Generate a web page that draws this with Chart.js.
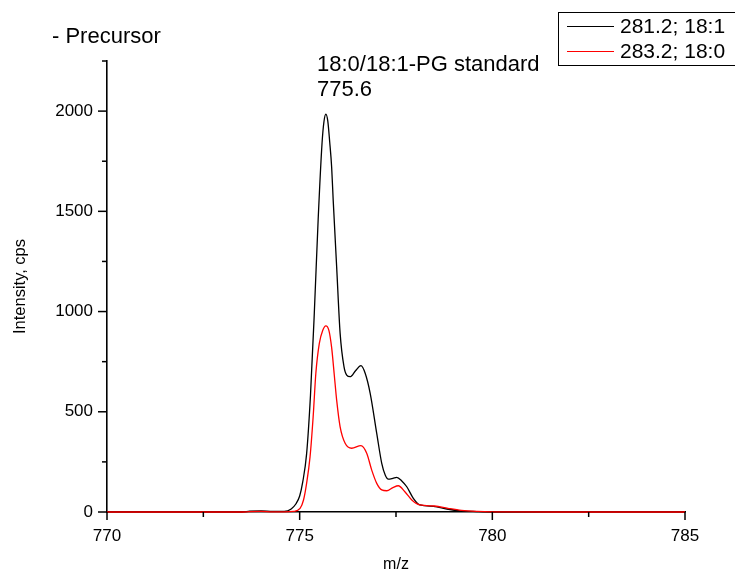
<!DOCTYPE html>
<html>
<head>
<meta charset="utf-8">
<script src="https://cdn.jsdelivr.net/npm/chart.js@4"></script>
<style>
html,body{margin:0;padding:0;background:#fff;}
#wrap{width:735px;height:572px;position:relative;}
</style>
</head>
<body>
<div id="wrap"><canvas id="c" width="735" height="572"></canvas></div>
<script>
// ---- data ----
const seriesLabels = ["281.2; 18:1", "283.2; 18:0"];
const seriesColors = ["#000000", "#ff0000"];

const mzBlack = [770, 773.5, 773.7, 774.0, 774.3, 774.6, 774.78, 774.9, 775.0, 775.08, 775.18, 775.28, 775.38, 775.48, 775.58, 775.63, 775.68, 775.73, 775.78, 775.83, 775.87, 775.96, 776.05, 776.15, 776.22, 776.31, 776.45, 776.59, 776.70, 776.83, 777.0, 777.13, 777.22, 777.30, 777.42, 777.52, 777.65, 777.78, 777.95, 778.12, 778.47, 778.82, 779.16, 779.6, 780, 785];
const intBlack = [0, 0, 4, 6, 3, 3, 15, 40, 80, 150, 290, 580, 993, 1459, 1838, 1947, 1985, 1950, 1845, 1720, 1556, 1223, 891, 725, 683, 675, 705, 730, 692, 592, 392, 243, 185, 164, 168, 173, 155, 126, 68, 35, 28, 15, 6, 2, 0, 0];

const mzRed = [770, 773.5, 773.7, 774.0, 774.3, 774.6, 774.84, 775.01, 775.10, 775.18, 775.27, 775.35, 775.42, 775.51, 775.60, 775.68, 775.76, 775.83, 775.90, 775.96, 776.05, 776.18, 776.35, 776.59, 776.74, 776.87, 777.0, 777.13, 777.26, 777.42, 777.56, 777.73, 777.91, 778.12, 778.5, 778.85, 779.2, 779.6, 780, 782, 785];
const intRed = [0, 0, 2, 3, 1, 1, 3, 18, 60, 143, 276, 475, 692, 841, 907, 929, 905, 820, 680, 558, 425, 343, 318, 331, 293, 209, 143, 110, 106, 122, 131, 101, 60, 35, 30, 18, 8, 3, 1, 0, 0];

const xMin = 770, xMax = 785, xMajor = 5, xMinor = 2.5;
const yMin = 0, yMax = 2250, yMajor = 500, yMinor = 250;
const xTitle = "m/z";
const yTitle = "Intensity, cps";
const cornerTitle = "- Precursor";
const annotationLines = ["18:0/18:1-PG standard", "775.6"];

// ---- chart ----
const FONT = "'Liberation Sans', Arial, sans-serif";
const toPts = (xs, ys) => xs.map((x, i) => ({x: x, y: ys[i]}));

const decor = {
  id: 'decor',
  afterDraw(chart) {
    const ctx = chart.ctx;
    const xs = chart.scales.x, ys = chart.scales.y;
    ctx.save();
    ctx.strokeStyle = '#000';
    ctx.lineWidth = 1.5;
    const yb = ys.getPixelForValue(yMin);
    xs.ticks.forEach(t => {
      const px = xs.getPixelForValue(t.value);
      const major = Math.abs(t.value / xMajor - Math.round(t.value / xMajor)) < 1e-6;
      ctx.beginPath(); ctx.moveTo(px, yb); ctx.lineTo(px, yb + (major ? 8 : 5)); ctx.stroke();
    });
    const xl = xs.getPixelForValue(xMin);
    ys.ticks.forEach(t => {
      const py = ys.getPixelForValue(t.value);
      const major = Math.abs(t.value / yMajor - Math.round(t.value / yMajor)) < 1e-6;
      ctx.beginPath(); ctx.moveTo(xl, py); ctx.lineTo(xl - (major ? 9 : 5), py); ctx.stroke();
    });
    ctx.fillStyle = '#000';
    ctx.textBaseline = 'alphabetic';
    ctx.textAlign = 'left';
    ctx.font = '22px ' + FONT;
    ctx.fillText(cornerTitle, 52, 43);
    ctx.fillText(annotationLines[0], 317, 71);
    ctx.fillText(annotationLines[1], 317, 96);
    // legend
    ctx.lineWidth = 1;
    ctx.strokeStyle = '#000';
    ctx.strokeRect(558.5, 12.5, 180, 53);
    ctx.font = '21px ' + FONT;
    chart.data.datasets.forEach((ds, i) => {
      const ly = 26.5 + i * 25;
      ctx.strokeStyle = seriesColors[i];
      ctx.lineWidth = 1;
      ctx.beginPath(); ctx.moveTo(567, ly); ctx.lineTo(614, ly); ctx.stroke();
      ctx.fillStyle = '#000';
      ctx.textBaseline = 'middle';
      ctx.fillText(ds.label, 620, ly + 1);
    });
    ctx.restore();
  }
};

new Chart(document.getElementById('c'), {
  type: 'line',
  data: {
    datasets: [
      {label: seriesLabels[0], data: toPts(mzBlack, intBlack), borderColor: seriesColors[0], borderWidth: 1.3, pointRadius: 0, cubicInterpolationMode: 'monotone', fill: false, clip: 6, order: 1},
      {label: seriesLabels[1], data: toPts(mzRed, intRed), borderColor: seriesColors[1], borderWidth: 1.3, pointRadius: 0, cubicInterpolationMode: 'monotone', fill: false, clip: 6, order: 0}
    ]
  },
  options: {
    responsive: false,
    animation: false,
    devicePixelRatio: 1,
    layout: {padding: {top: 61, right: 50, left: 0, bottom: 0}},
    plugins: {legend: {display: false}, tooltip: {enabled: false}},
    scales: {
      x: {
        type: 'linear', min: xMin, max: xMax,
        afterFit: s => { s.height = 60; },
        grid: {display: true, drawOnChartArea: false, drawTicks: false},
        border: {display: true, color: '#000', width: 1.6},
        ticks: {stepSize: xMinor, autoSkip: false, maxRotation: 0, padding: 14, color: '#000', font: {family: FONT, size: 17},
          callback: v => (Math.abs(v % xMajor) < 1e-6 ? String(v) : '')},
        title: {display: true, text: xTitle, color: '#000', font: {family: FONT, size: 16, lineHeight: 1}, padding: {top: 0, bottom: -1}}
      },
      y: {
        type: 'linear', min: yMin, max: yMax,
        afterFit: s => { s.width = 107; },
        grid: {display: true, drawOnChartArea: false, drawTicks: false},
        border: {display: true, color: '#000', width: 1.6},
        ticks: {stepSize: yMinor, autoSkip: false, padding: 14, color: '#000', font: {family: FONT, size: 17},
          callback: v => (Math.abs(v % yMajor) < 1e-6 ? String(v) : '')},
        title: {display: true, text: yTitle, color: '#000', font: {family: FONT, size: 16.5, lineHeight: 1}, padding: {top: 12, bottom: 0}}
      }
    }
  },
  plugins: [decor]
});
</script>
</body>
</html>
